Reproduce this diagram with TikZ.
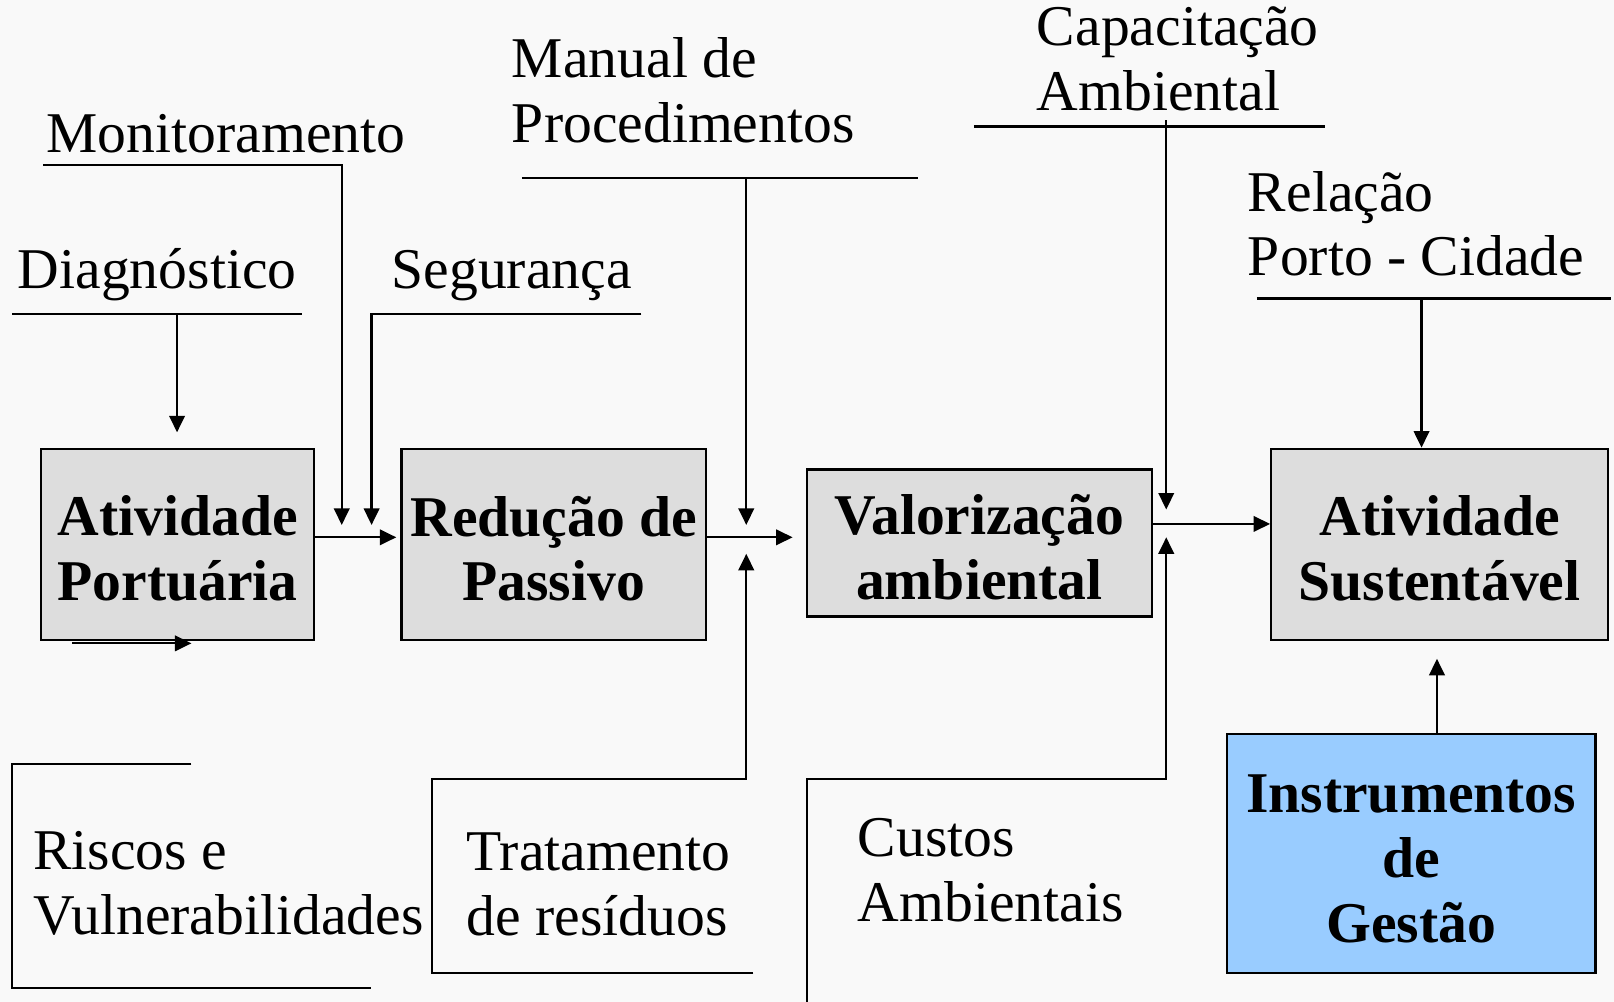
\documentclass[tikz,border=0pt]{standalone}
\usepackage{fontspec}
\setmainfont{Liberation Serif}
\usetikzlibrary{arrows.meta}
\definecolor{boxgray}{HTML}{DDDDDD}
\definecolor{boxblue}{HTML}{99CCFF}
\definecolor{bgcol}{HTML}{F9F9F9}
\newcommand{\topstrut}{\rule{0pt}{23.5pt}}
\begin{document}
\begin{tikzpicture}[x=0.5pt,y=-0.5pt,
 lbl/.style={anchor=base west,font=\fontsize{28}{31.5}\selectfont,inner sep=0pt,align=left},
 box/.style={draw=black,line width=1.1pt,fill=boxgray,font=\bfseries\fontsize{28}{31.5}\selectfont,align=center,inner sep=0pt},
 ln/.style={line width=1.1pt},
 arr/.style={line width=1.1pt,-{Triangle[length=8pt,width=7.5pt]}}]
\fill[bgcol] (0,0) rectangle (1568,973);
\useasboundingbox (0,0) rectangle (1568,973);

% boxes
\node[box,minimum width=132.5pt,minimum height=93pt] (box1) at (172.5,529) {\topstrut Atividade\\Portuária};
\node[box,minimum width=148pt,minimum height=93pt] (box2) at (538,529) {\topstrut Redução de\\Passivo};
\node[box,minimum width=167.5pt,minimum height=71.5pt] (box3) at (951.5,527.5) {\topstrut Valorização\\ambiental};
\node[box,minimum width=163.5pt,minimum height=93pt] (box4) at (1398.5,529) {\topstrut Atividade\\Sustentável};
\node[box,fill=boxblue,minimum width=179pt,minimum height=116pt] (box5) at (1371,829) {\topstrut Instrumentos\\de\\Gestão};

% labels (anchor = baseline of last line)
\node[lbl] (mon) at (45,148) {Monitoramento};
\node[lbl] (diag) at (17,280) {Diagnóstico};
\node[lbl] (seg) at (380,280) {Segurança};
\node[lbl] (man) at (497,138) {Manual de\\Procedimentos};
\node[lbl] (cap) at (1007,107) {Capacitação\\Ambiental};
\node[lbl] (rel) at (1212,268) {Relação\\Porto - Cidade};
\node[lbl] (ris) at (32,908) {Riscos e\\Vulnerabilidades};
\node[lbl] (tra) at (453,909) {Tratamento\\de resíduos};
\node[lbl] (cus) at (833,895) {Custos\\Ambientais};

% coordinates
\coordinate (monA) at (42,160);
\coordinate (monT) at (332,510);
\coordinate (diagL) at (12,305);
\coordinate (diagR) at (293,305);
\coordinate (diagA) at (172,305);
\coordinate (diagT) at (172,420);
\coordinate (segA) at (623,305);
\coordinate (segT) at (361,510);
\coordinate (manL) at (507,173);
\coordinate (manR) at (892,173);
\coordinate (manA) at (725,173);
\coordinate (manT) at (725,510);
\coordinate (capL) at (946,123);
\coordinate (capR) at (1287,123);
\coordinate (capA) at (1133,117);
\coordinate (capT) at (1133,495);
\coordinate (relL) at (1221,290);
\coordinate (relR) at (1565,290);
\coordinate (relA) at (1381,290);
\coordinate (traA) at (732,945);
\coordinate (traB) at (420,945);
\coordinate (traC) at (420,757);
\coordinate (traT) at (725,538);
\coordinate (cusA) at (784,973);
\coordinate (cusB) at (784,757);
\coordinate (cusT) at (1133,522);
\coordinate (risA) at (186,742);
\coordinate (risB) at (12,742);
\coordinate (risC) at (12,960);
\coordinate (risD) at (360,960);
\coordinate (smA) at (70,625);
\coordinate (smB) at (186,625);
\coordinate (y12) at (0,522);
\coordinate (t12) at (385,522);
\coordinate (t23) at (770,522);
\coordinate (y34) at (0,509);
\coordinate (b5T) at (1396,640);

% connectors
\draw[arr] (monA) -| (monT);
\draw[ln] (diagL) -- (diagR);
\draw[arr] (diagA) -- (diagT);
\draw[arr] (segA) -| (segT);
\draw[ln] (manL) -- (manR);
\draw[arr] (manA) -- (manT);
\draw[ln] (capL) -- (capR);
\draw[arr] (capA) -- (capT);
\draw[ln] (relL) -- (relR);
\draw[arr] (relA) -- (box4.north -| relA);
\draw[arr] (traA) -- (traB) -- (traC) -| (traT);
\draw[arr] (cusA) -- (cusB) -| (cusT);
\draw[ln] (risA) -- (risB) -- (risC) -- (risD);
\draw[arr] (smA) -- (smB);
\draw[arr] (box1.east |- y12) -- (t12);
\draw[arr] (box2.east |- y12) -- (t23);
\draw[arr] (box3.east |- y34) -- (box4.west |- y34);
\draw[arr] (box5.north -| b5T) -- (b5T);
\end{tikzpicture}
\end{document}
